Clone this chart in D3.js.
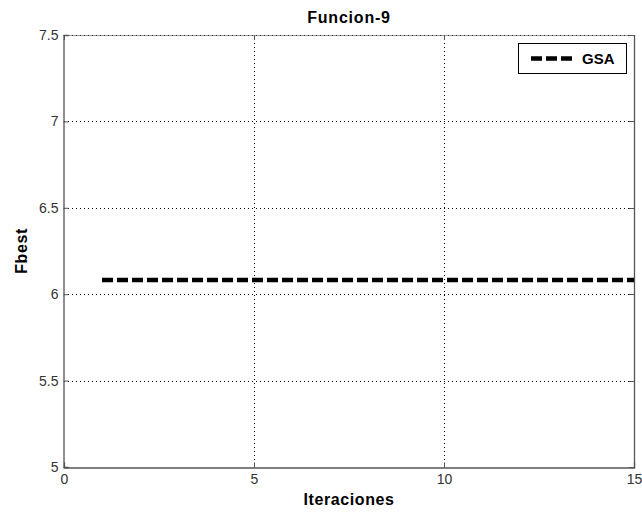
<!DOCTYPE html>
<html>
<head>
<meta charset="utf-8">
<script src="https://cdn.jsdelivr.net/npm/d3@7"></script>
<style>
  body { margin: 0; background: #fff; }
  text { font-family: "Liberation Sans", Arial, sans-serif; }
</style>
</head>
<body>
<svg id="chart" width="642" height="516"></svg>
<script>
// data
var iterations = [1, 2, 3, 4, 5, 6, 7, 8, 9, 10, 11, 12, 13, 14, 15];
var fbest = [6.082, 6.082, 6.082, 6.082, 6.082, 6.082, 6.082, 6.082, 6.082, 6.082, 6.082, 6.082, 6.082, 6.082, 6.082];
var xTicks = [0, 5, 10, 15];
var yTicks = [5, 5.5, 6, 6.5, 7, 7.5];
var seriesName = 'GSA';

var svg = d3.select('#chart');
// plot box (note: "top" is reserved on window, so use plot* names)
var plotLeft = 64, plotRight = 634, plotTop = 35, plotBottom = 467;

var x = d3.scaleLinear().domain([0, 15]).range([plotLeft, plotRight]);
var y = d3.scaleLinear().domain([5, 7.5]).range([plotBottom, plotTop]);

function py(d) { return Math.round(y(d)) + 0.5; }
function px(d) { return Math.round(x(d)) + 0.5; }

// grid
svg.append('g')
  .selectAll('line')
  .data(xTicks.slice(1, -1))
  .enter().append('line')
  .attr('x1', px).attr('x2', px)
  .attr('y1', plotTop).attr('y2', plotBottom)
  .attr('stroke', '#000').attr('stroke-width', 1)
  .attr('stroke-dasharray', '1,3');

svg.append('g')
  .selectAll('line')
  .data(yTicks.slice(1))
  .enter().append('line')
  .attr('x1', plotLeft).attr('x2', plotRight)
  .attr('y1', py).attr('y2', py)
  .attr('stroke', '#000').attr('stroke-width', 1)
  .attr('stroke-dasharray', '1,3');

// axes (ticks inward)
var xAxis = d3.axisBottom(x).tickValues(xTicks).tickSize(-5).tickPadding(7)
  .tickFormat(d3.format('d'));
var yAxis = d3.axisLeft(y).tickValues(yTicks).tickSize(-5).tickPadding(5)
  .tickFormat(function (d) { return d3.format('')(d); });

var gx = svg.append('g').attr('transform', 'translate(0,' + (plotBottom + 0.5) + ')').call(xAxis);
var gy = svg.append('g').attr('transform', 'translate(' + (plotLeft - 0.5) + ',0)').call(yAxis);
[gx, gy].forEach(function (g) {
  g.select('.domain').attr('stroke', '#555').attr('stroke-width', 1.3);
  g.selectAll('.tick line').attr('stroke', '#555');
  g.selectAll('.tick text').attr('fill', '#333').style('font-size', '14px')
    .style('font-family', '"Liberation Sans", Arial, sans-serif');
});

// right border
svg.append('line')
  .attr('x1', plotRight + 0.5).attr('x2', plotRight + 0.5)
  .attr('y1', plotTop).attr('y2', plotBottom + 1)
  .attr('stroke', '#555').attr('stroke-width', 1.3);
// top border (solid)
svg.append('line')
  .attr('x1', plotLeft).attr('x2', plotRight + 1)
  .attr('y1', plotTop + 0.5).attr('y2', plotTop + 0.5)
  .attr('stroke', '#555').attr('stroke-width', 0.6);
// small ticks on right/top
svg.append('g').selectAll('line').data(yTicks).enter().append('line')
  .attr('x1', plotRight - 5).attr('x2', plotRight)
  .attr('y1', py).attr('y2', py)
  .attr('stroke', '#555');
svg.append('g').selectAll('line').data(xTicks).enter().append('line')
  .attr('x1', px).attr('x2', px)
  .attr('y1', plotTop).attr('y2', plotTop + 5)
  .attr('stroke', '#555');

// series
var line = d3.line()
  .x(function (d, i) { return x(iterations[i]); })
  .y(function (d) { return y(d); });

svg.append('path')
  .datum(fbest)
  .attr('d', line)
  .attr('fill', 'none')
  .attr('stroke', '#000')
  .attr('stroke-width', 4.5)
  .attr('stroke-dasharray', '11,4');

// legend
var legend = svg.append('g');
legend.append('rect')
  .attr('x', 518.5).attr('y', 43.5).attr('width', 108).attr('height', 30)
  .attr('fill', '#fff').attr('stroke', '#000').attr('stroke-width', 1);
legend.append('line')
  .attr('x1', 531).attr('x2', 572).attr('y1', 58.5).attr('y2', 58.5)
  .attr('stroke', '#000').attr('stroke-width', 4.5)
  .attr('stroke-dasharray', '11,4');
legend.append('text')
  .attr('x', 582).attr('y', 64)
  .style('font-size', '15px').style('font-weight', 'bold')
  .text(seriesName);

// labels
svg.append('text')
  .attr('x', (plotLeft + plotRight) / 2).attr('y', 23)
  .attr('text-anchor', 'middle')
  .style('font-size', '16px').style('font-weight', 'bold')
  .style('letter-spacing', '0.8px')
  .text('Funcion-9');

svg.append('text')
  .attr('x', (plotLeft + plotRight) / 2).attr('y', 505)
  .attr('text-anchor', 'middle')
  .style('font-size', '16px').style('font-weight', 'bold')
  .style('letter-spacing', '0.6px')
  .text('Iteraciones');

svg.append('text')
  .attr('transform', 'translate(27,' + ((plotTop + plotBottom) / 2) + ') rotate(-90)')
  .attr('text-anchor', 'middle')
  .style('font-size', '16px').style('font-weight', 'bold')
  .style('letter-spacing', '0.6px')
  .text('Fbest');
</script>
</body>
</html>
